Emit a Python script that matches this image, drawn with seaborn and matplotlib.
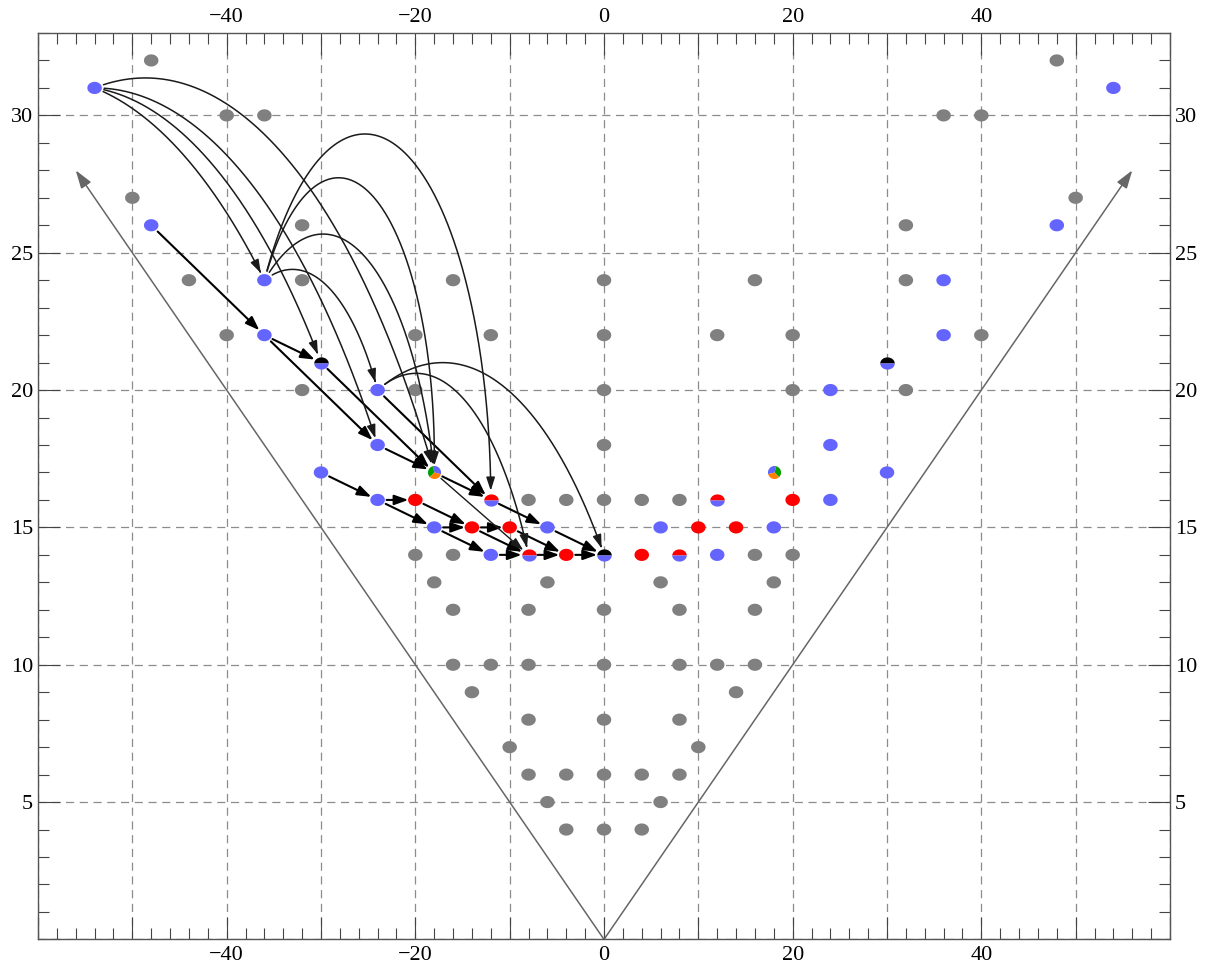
import numpy as np
import pandas as pd
import matplotlib
matplotlib.use("Agg")
import matplotlib.pyplot as plt
import seaborn as sns
from matplotlib.path import Path
from matplotlib.patches import FancyArrowPatch
from matplotlib.ticker import MultipleLocator, FuncFormatter

# ---- data ----
gray_x = [-48, -40, -36, -50, -32, -44, -32, -16, -40, -20, -12, -32, -20, -8, -4,
          -20, -16, -18, -6, -16, -8, -16, -12, -8, -14, -8, -10, -8, -4, -6, -4,
          0, 0, 0, 0, 0, 0, 0, 0, 0, 0,
          48, 40, 36, 50, 32, 32, 16, 40, 20, 12, 32, 20, 8, 4,
          20, 16, 18, 6, 16, 8, 16, 12, 8, 14, 8, 10, 8, 4, 6, 4]
gray_y = [32, 30, 30, 27, 26, 24, 24, 24, 22, 22, 22, 20, 20, 16, 16,
          14, 14, 13, 13, 12, 12, 10, 10, 10, 9, 8, 7, 6, 6, 5, 4,
          24, 22, 20, 18, 16, 12, 10, 8, 6, 4,
          32, 30, 30, 27, 26, 24, 24, 22, 22, 22, 20, 20, 16, 16,
          14, 14, 13, 13, 12, 12, 10, 10, 10, 9, 8, 7, 6, 6, 5, 4]

blue_x = [-54, -48, -36, -36, -24, -24, -30, -24, -18, -6, -12,
          54, 48, 36, 36, 24, 24, 30, 24, 18, 6, 12]
blue_y = [31, 26, 24, 22, 20, 18, 17, 16, 15, 15, 14,
          31, 26, 24, 22, 20, 18, 17, 16, 15, 15, 14]

red_x = [-20, -14, -10, -4, 20, 14, 10, 4]
red_y = [16, 15, 15, 14, 16, 15, 15, 14]

redblue_x = [-12, -8, 12, 8]
redblue_y = [16, 14, 16, 14]

blackblue_x = [-30, 0, 30]
blackblue_y = [21, 14, 21]

pie_x = [-18, 18]
pie_y = [17, 17]

# thick straight arrows
step_src = [(-48, 26), (-36, 22), (-36, 22), (-30, 21), (-24, 20), (-24, 18), (-30, 17),
            (-24, 16), (-24, 16), (-20, 16), (-18, 17), (-12, 16), (-18, 15), (-18, 15),
            (-14, 15), (-14, 15), (-10, 15), (-6, 15), (-12, 14), (-8, 14), (-4, 14)]
step_dst = [(-36, 22), (-30, 21), (-24, 18), (-18, 17), (-12, 16), (-18, 17), (-24, 16),
            (-20, 16), (-18, 15), (-14, 15), (-12, 16), (-6, 15), (-14, 15), (-12, 14),
            (-10, 15), (-8, 14), (-4, 14), (0, 14), (-8, 14), (-4, 14), (0, 14)]

# thin straight arrow
thin_src = [(-18, 17)]
thin_dst = [(-8, 14)]

# curved arrows, arc sweep in degrees
arc_src = [(-54, 31), (-54, 31), (-54, 31), (-54, 31),
           (-36, 24), (-36, 24), (-36, 24), (-36, 24),
           (-24, 20), (-24, 20)]
arc_dst = [(-36, 24), (-30, 21), (-24, 18), (-18, 17),
           (-24, 20), (-18, 17), (-18, 17), (-12, 16),
           (-8, 14), (0, 14)]
arc_sweep = [27, 39, 47, 58, 67, 103, 144, 143, 75, 61]

cone_x = [-56, 56]
cone_y = [28, 28]

BLUE = "#6464ff"
RED = "#ff0000"
GRAY = "#808080"
GREEN = "#00a000"
ORANGE = "#ff8000"


def ell_path(a0, a1, ry=0.84, center=False, n=80):
    t = np.linspace(np.radians(a0), np.radians(a1), n)
    # keep the extreme points so every piece is scaled alike
    extra = [np.radians(k) for k in range(-360, 721, 90) if a0 <= k <= a1]
    t = np.sort(np.concatenate([t, extra]))
    v = np.column_stack([np.cos(t), ry * np.sin(t)])
    if center:
        v = np.vstack([[0, 0], v, [0, 0]])
    else:
        v = np.vstack([v, v[:1]])
    return Path(v, closed=True)


dot = ell_path(0, 360)
top_half = ell_path(0, 180)
bot_half = ell_path(180, 360)

sns.set_theme(style="ticks")
plt.rcParams["font.family"] = ["Liberation Serif", "DejaVu Serif"]

fig = plt.figure(figsize=(12.16, 9.67), dpi=100)
ax = fig.add_axes([0.03125, 0.02854, 0.93092, 0.93734])

# cone lines from the origin
for cx, cy in zip(cone_x, cone_y):
    ax.annotate("", xy=(cx, cy), xytext=(0, 0),
                arrowprops=dict(arrowstyle="-|>,head_length=0.55,head_width=0.18",
                                mutation_scale=20, lw=1.1, color="#666666",
                                shrinkA=0, shrinkB=0), zorder=2)

# solid dots
dots = pd.DataFrame({
    "x": gray_x + blue_x + red_x,
    "y": gray_y + blue_y + red_y,
    "kind": ["gray"] * len(gray_x) + ["blue"] * len(blue_x) + ["red"] * len(red_x),
})
sns.scatterplot(data=dots, x="x", y="y", hue="kind",
                palette={"gray": GRAY, "blue": BLUE, "red": RED},
                marker=dot, s=109, linewidth=0, edgecolor="none",
                legend=False, ax=ax, zorder=3)

ax.set_xlim(-60, 60)
ax.set_ylim(0, 33)
ax.set_xlabel("")
ax.set_ylabel("")

# frame, ticks, grid
for sp in ax.spines.values():
    sp.set_color("#555555")
    sp.set_linewidth(1.0)
ax.xaxis.set_major_locator(MultipleLocator(10))
ax.xaxis.set_minor_locator(MultipleLocator(2))
ax.yaxis.set_major_locator(MultipleLocator(5))
ax.yaxis.set_minor_locator(MultipleLocator(1))


def xfmt(v, _):
    if abs(v) >= 59 or round(v) % 20:
        return ""
    return ("\u2212%d" % -v) if v < 0 else "%d" % v


def yfmt(v, _):
    if v < 1 or round(v) % 5:
        return ""
    return "%d" % v


ax.xaxis.set_major_formatter(FuncFormatter(xfmt))
ax.yaxis.set_major_formatter(FuncFormatter(yfmt))
ax.tick_params(which="both", direction="in", top=True, right=True,
               labeltop=True, labelright=True, color="#444444", width=0.8,
               labelsize=16, labelcolor="black")
ax.tick_params(which="major", length=15.8)
ax.tick_params(which="minor", length=7.9)
ax.tick_params(axis="x", which="major", pad=4.5)
ax.tick_params(axis="y", which="major", pad=3.5)
ax.set_axisbelow(True)
ax.grid(True, which="major", color="#8c8c8c", linestyle=(0, (6.5, 4.5)), linewidth=0.9)

# split dots
ax.scatter(redblue_x, redblue_y, marker=top_half, s=109, c=RED, linewidths=0, zorder=3)
ax.scatter(redblue_x, redblue_y, marker=bot_half, s=109, c=BLUE, linewidths=0, zorder=3)
ax.scatter(blackblue_x, blackblue_y, marker=top_half, s=109, c="black", linewidths=0, zorder=3)
ax.scatter(blackblue_x, blackblue_y, marker=bot_half, s=109, c=BLUE, linewidths=0, zorder=3)

pie_left = [(-15, 105, BLUE), (105, 225, GREEN), (225, 345, ORANGE)]
for px, py in zip(pie_x, pie_y):
    for a0, a1, col in pie_left:
        if px > 0:
            a0, a1 = 180 - a1, 180 - a0
        ax.scatter([px], [py], marker=ell_path(a0, a1, ry=1.0, center=True),
                   s=88, c=col, linewidths=0, zorder=3)

# straight arrows
for (sx, sy), (dx, dy) in zip(step_src, step_dst):
    ax.annotate("", xy=(dx, dy), xytext=(sx, sy),
                arrowprops=dict(arrowstyle="-|>,head_length=0.42,head_width=0.15",
                                mutation_scale=20, lw=1.5, color="black",
                                shrinkA=6.5, shrinkB=5), zorder=4)
for (sx, sy), (dx, dy) in zip(thin_src, thin_dst):
    ax.annotate("", xy=(dx, dy), xytext=(sx, sy),
                arrowprops=dict(arrowstyle="-|>,head_length=0.4,head_width=0.13",
                                mutation_scale=20, lw=1.0, color="#1a1a1a",
                                shrinkA=6.5, shrinkB=5), zorder=4)


# curved arrows: circular arcs in data space
def arc_xy(p, q, sweep, n=300):
    p = np.asarray(p, float)
    q = np.asarray(q, float)
    d = q - p
    L = np.hypot(*d)
    h = L / 2
    phi = np.radians(sweep)
    nl = np.array([-d[1], d[0]]) / L
    c = (p + q) / 2 - nl * h / np.tan(phi / 2)
    r = h / np.sin(phi / 2)
    t0 = np.arctan2(p[1] - c[1], p[0] - c[0])
    t1 = np.arctan2(q[1] - c[1], q[0] - c[0])
    if t1 > t0:
        t1 -= 2 * np.pi
    t = np.linspace(t0, t1, n)
    return c[0] + r * np.cos(t), c[1] + r * np.sin(t)


for s, d, sw in zip(arc_src, arc_dst, arc_sweep):
    xs, ys = arc_xy(s, d, sw)
    pix = ax.transData.transform(np.column_stack([xs, ys]))
    ds = np.hypot(*(pix - pix[0]).T)
    de = np.hypot(*(pix - pix[-1]).T)
    i0 = np.argmax(ds >= 9)
    i1 = len(de) - np.argmax(de[::-1] >= 7)
    pts = np.column_stack([xs[i0:i1], ys[i0:i1]])
    arr = FancyArrowPatch(path=Path(pts),
                          arrowstyle="-|>,head_length=0.4,head_width=0.13",
                          mutation_scale=20, lw=1.1, color="#1a1a1a",
                          transform=ax.transData, zorder=4)
    ax.add_patch(arr)

fig.savefig("out.png", dpi=100)
